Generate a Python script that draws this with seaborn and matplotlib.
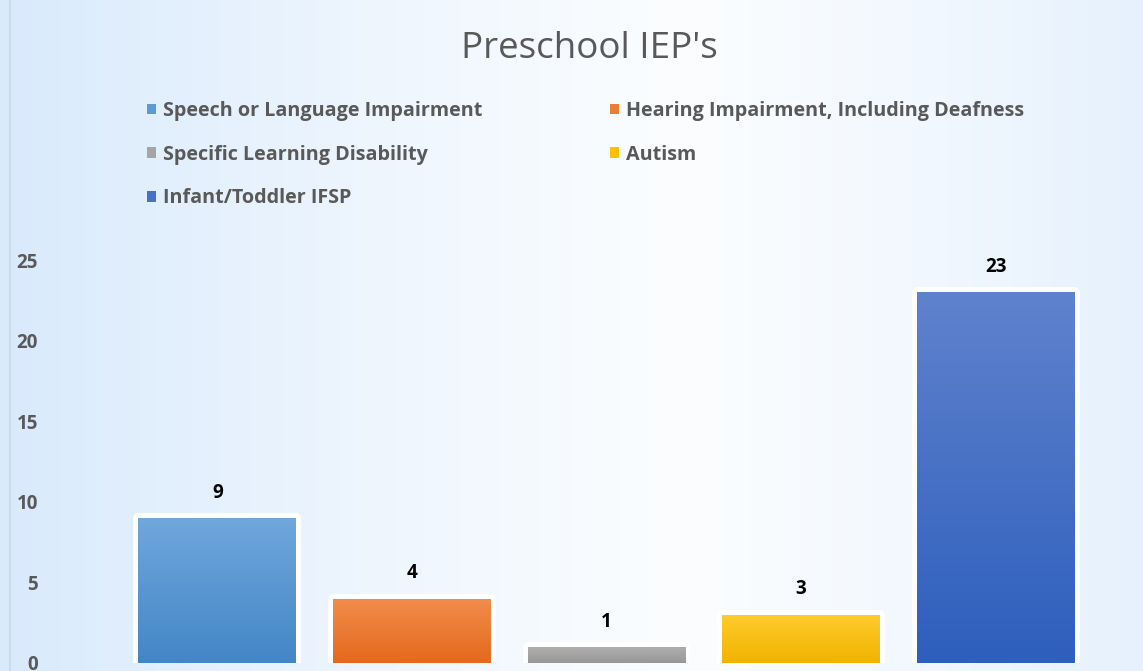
"""Preschool IEP's bar chart with gradient bars on a light blue background."""
import matplotlib
matplotlib.use("Agg")
import matplotlib.pyplot as plt
import numpy as np
import pandas as pd
import seaborn as sns
from matplotlib.colors import LinearSegmentedColormap, to_rgb
from matplotlib.lines import Line2D
from matplotlib.patches import Patch
import matplotlib.patheffects as pe

categories = ["Speech or Language Impairment", "Hearing Impairment, Including Deafness",
              "Specific Learning Disability", "Autism", "Infant/Toddler IFSP"]
values = [9, 4, 1, 3, 23]
top_colors = ["#70a7dd", "#f38c4c", "#b0b0b0", "#ffcb2e", "#5f82cd"]
bottom_colors = ["#4386c6", "#e4691c", "#979797", "#f0b400", "#2e5fbd"]
legend_colors = ["#5b9bd5", "#ed7d31", "#a5a5a5", "#ffc000", "#4472c4"]

TEXT = "#595959"
W, H = 1143, 671


def main():
    sns.set_style("white")
    plt.rcParams["font.family"] = ["Open Sans", "DejaVu Sans"]

    fig = plt.figure(figsize=(W / 100, H / 100), dpi=100)

    # background gradient: light blue at the sides, nearly white in the middle
    bg = fig.add_axes([0, 0, 1, 1], zorder=-10)
    xs = np.linspace(0, 1, 400)
    t = np.clip(np.abs(xs - 0.6) / 0.6, 0, 1) ** 1.2
    c0, c1 = np.array(to_rgb("#fbfdff")), np.array(to_rgb("#d9eafc"))
    row = c0[None, :] * (1 - t[:, None]) + c1[None, :] * t[:, None]
    bg.imshow(row[None, :, :], aspect="auto", extent=[0, 1, 0, 1])
    bg.set_axis_off()
    fig.add_artist(Line2D([10 / W, 10 / W], [0, 1], color="#cfd6de", lw=1.2))

    left, right, bottom, top = 120 / W, 1093 / W, 8 / H, 1 - 244 / H
    ax = fig.add_axes([left, bottom, right - left, top - bottom])
    ax.patch.set_alpha(0)

    df = pd.DataFrame({"category": categories, "value": values})
    sns.barplot(data=df, x="category", y="value", hue="category",
                palette=legend_colors, width=0.81, legend=False, ax=ax,
                edgecolor="white", linewidth=7)

    for patch, c_top, c_bot in zip(ax.patches, top_colors, bottom_colors):
        patch.set_joinstyle("round")
        patch.set_path_effects([pe.SimplePatchShadow(offset=(0, 0), shadow_rgbFace="#9aa6b2",
                                                     alpha=0.35), pe.Normal()])
        x, w, h = patch.get_x(), patch.get_width(), patch.get_height()
        cmap = LinearSegmentedColormap.from_list("g", [c_bot, c_top])
        grad = np.linspace(1, 0, 100)[:, None]
        im = ax.imshow(grad, cmap=cmap, aspect="auto", extent=[x, x + w, 0, h],
                       zorder=patch.get_zorder() + 0.1, vmin=0, vmax=1)
        im.set_clip_path(patch)
        ax.text(x + w / 2, h + 0.95, f"{h:g}", ha="center", va="bottom",
                fontsize=13.5, fontweight="bold", color="black")

    ax.set_xlim(-0.5, 4.5)
    ax.set_ylim(0, 26)
    ax.set_yticks([0, 5, 10, 15, 20, 25])
    ax.set_xticks([])
    ax.set_xlabel(""); ax.set_ylabel("")
    ax.tick_params(axis="y", length=0, pad=59, labelsize=13.5, labelcolor=TEXT)
    for lbl in ax.get_yticklabels():
        lbl.set_fontweight("bold")
    sns.despine(ax=ax, left=True, bottom=True)

    fig.text(589 / W, 1 - 49 / H, "Preschool IEP's", ha="center", va="center",
             fontsize=26.5, color=TEXT)

    # legend filled row by row: reorder for column-major layout
    order = [0, 2, 4, 1, 3]
    handles = [Patch(facecolor=legend_colors[i], edgecolor="none") for i in order]
    labels = [categories[i] for i in order]
    fig.legend(handles, labels, loc="upper left", ncol=2,
               bbox_to_anchor=(147 / W, 1 - 101 / H), frameon=False,
               prop={"size": 14.2, "weight": "bold"}, labelcolor=TEXT,
               handlelength=0.45, handleheight=0.45, handletextpad=0.35,
               labelspacing=1.2, columnspacing=6.5, borderpad=0, borderaxespad=0)

    plt.savefig("out.png", dpi=100)
    plt.close()


if __name__ == "__main__":
    main()
